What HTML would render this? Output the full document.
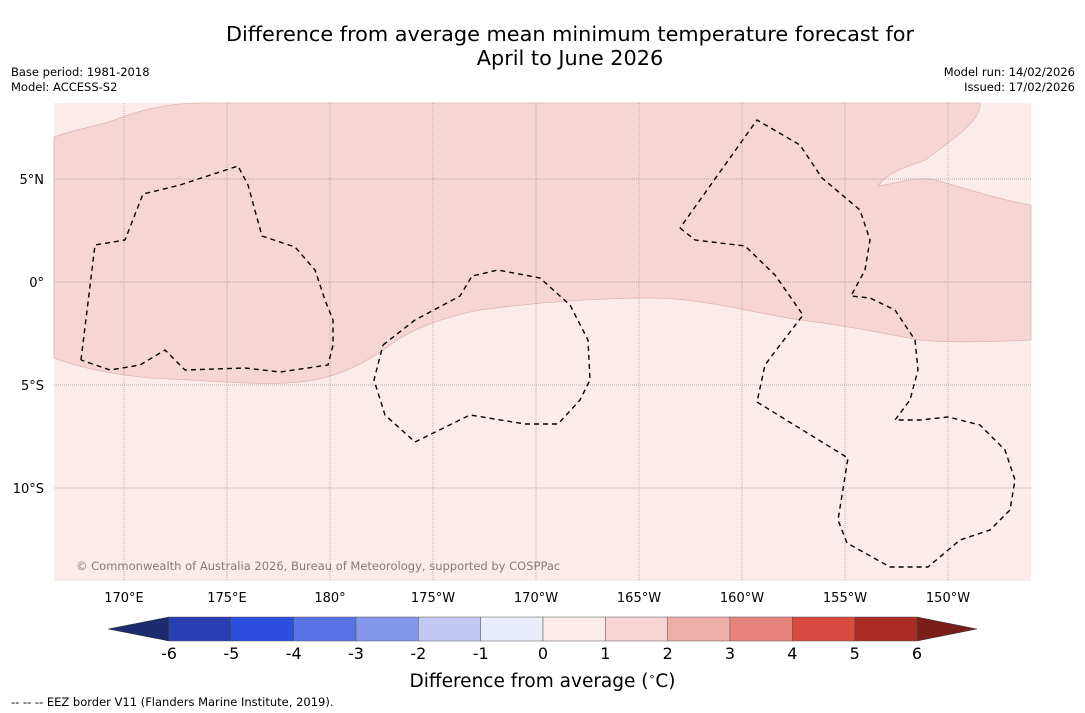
<!DOCTYPE html>
<html><head><meta charset="utf-8"><style>
body{margin:0;background:#fff;font-family:"DejaVu Sans","Liberation Sans",sans-serif}
#w{position:relative;width:1085px;height:713px;overflow:hidden}
.t{position:absolute;white-space:nowrap;color:#000}
</style></head><body>
<div id="w">
<div class="t" style="left:0;width:1140px;text-align:center;top:22px;font-size:20.8px;line-height:24px">Difference from average mean minimum temperature forecast for<br>April to June 2026</div>
<div class="t" style="left:11px;top:65px;font-size:11.5px;line-height:15px">Base period: 1981-2018<br>Model: ACCESS-S2</div>
<div class="t" style="right:10px;top:65px;font-size:11.5px;line-height:15px;text-align:right">Model run: 14/02/2026<br>Issued: 17/02/2026</div>
<svg id="s" width="1085" height="713" style="position:absolute;left:0;top:0"></svg>
<div class="t" style="left:0;width:1085px;text-align:center;top:670px;font-size:18.5px">Difference from average (<sup style="font-size:11px">∘</sup>C)</div>
<div class="t" style="left:11px;top:695px;font-size:11.5px">--  --  -- EEZ border V11 (Flanders Marine Institute, 2019).</div>
</div>
<script>
const lonTicks=[170,175,180,-175,-170,-165,-160,-155,-150];
const lonLabels=["170°E","175°E","180°","175°W","170°W","165°W","160°W","155°W","150°W"];
const latTicks=[5,0,-5,-10];
const latLabels=["5°N","0°","5°S","10°S"];
const cbLevels=[-6,-5,-4,-3,-2,-1,0,1,2,3,4,5,6];
const cbColors=["#283fb1","#2d4fe0","#5873e3","#8497ea","#c1c9f4","#e9ecfb","#fbebe9","#f6d5d3","#edaea8","#e6847c","#d94a41","#a92b24"];
const NS="http://www.w3.org/2000/svg";
const svg=document.getElementById('s');
const X0=54,X1=1031,Y0=103,Y1=581;
function lx(l){let d=l<0?l+360:l;return 124+(d-170)*20.6;}
function ly(l){return 282-l*20.6;}
function mk(t,a,p){const e=document.createElementNS(NS,t);for(const k in a)e.setAttribute(k,a[k]);(p||svg).appendChild(e);return e;}
const bg=mk('rect',{x:X0,y:Y0,width:X1-X0,height:Y1-Y0,fill:'#fbeceb'});


const band=mk('path',{d:"M54,137 C80,128 100,126 120,118 C140,110 170,103 200,103 L980,103 C982,118 960,135 925,160 C905,168 890,170 878,186 C900,183 915,176 935,180 C965,188 1000,200 1031,205 L1031,340 C990,342 950,343 920,340 C880,333 850,326 800,320 C750,312 700,298 650,298 C600,298 540,302 480,310 C440,318 410,330 390,345 C370,360 340,378 300,382 C260,386 220,381 150,378 C110,374 80,368 54,358 Z",fill:'#f5d6d4',stroke:'#e0b5b2','stroke-width':0.8});


lonTicks.forEach((l,i)=>{const x=lx(l);
 const g=mk('line',{x1:x,x2:x,y1:Y0,y2:Y1,stroke:'#999','stroke-width':0.7,'stroke-dasharray':'1,1'});
 
 
 const t=mk('text',{x:x,y:602,'text-anchor':'middle','font-size':13,'font-family':'DejaVu Sans, sans-serif'});t.textContent=lonLabels[i];
 
 });
latTicks.forEach((l,i)=>{const y=ly(l);
 const g=mk('line',{x1:X0,x2:X1,y1:y,y2:y,stroke:'#999','stroke-width':0.7,'stroke-dasharray':'1,1'});
 
 
 const t=mk('text',{x:44,y:y+5,'text-anchor':'end','font-size':13,'font-family':'DejaVu Sans, sans-serif'});t.textContent=latLabels[i];
 
 });
const eez=["81,360 95,245 125,240 143,194 180,185 238,166 248,185 262,236 295,247 315,270 325,300 333,320 333,345 328,365 280,372 245,368 185,370 165,350 140,365 110,370 81,360",
"383,345 415,320 460,296 472,276 498,270 540,278 570,305 588,340 590,380 580,400 558,424 525,424 470,415 415,442 385,415 374,380 383,345",
"680,228 695,240 745,246 775,275 803,315 780,345 765,365 757,402 848,458 838,520 847,543 890,567 928,567 960,540 990,530 1010,510 1015,480 1005,450 980,425 948,417 920,420 895,420 910,400 918,370 915,340 895,310 870,298 851,296 865,270 870,240 860,210 822,178 800,145 757,120 680,228"];
eez.forEach(p=>{const e=mk('polyline',{points:p,fill:'none',stroke:'#000','stroke-width':1.4,'stroke-dasharray':'5,4'});
 
 });
const cp=mk('text',{x:76,y:570,'font-size':11.5,fill:'#8a7876','font-family':'DejaVu Sans, sans-serif'});cp.textContent="© Commonwealth of Australia 2026, Bureau of Meteorology, supported by COSPPac";


const CB0=169,CB1=917,CY=617,CH=24;
function cx(v){return CB0+(v-cbLevels[0])/(cbLevels[cbLevels.length-1]-cbLevels[0])*(CB1-CB0);}
const lt=mk('polygon',{points:`108,${CY+CH/2} ${CB0},${CY} ${CB0},${CY+CH}`,fill:'#1c2a6e',stroke:'#333','stroke-width':0.5});


const rt=mk('polygon',{points:`977,${CY+CH/2} ${CB1},${CY} ${CB1},${CY+CH}`,fill:'#7a1e18',stroke:'#333','stroke-width':0.5});


cbColors.forEach((c,i)=>{const r=mk('rect',{x:cx(cbLevels[i]),y:CY,width:cx(cbLevels[i+1])-cx(cbLevels[i]),height:CH,fill:c,stroke:'#555','stroke-width':0.5});
 
 });
cbLevels.forEach(v=>{const t=mk('text',{x:cx(v),y:659,'text-anchor':'middle','font-size':16,'font-family':'DejaVu Sans, sans-serif'});t.textContent=v;
 
 });
</script>
</body></html>
